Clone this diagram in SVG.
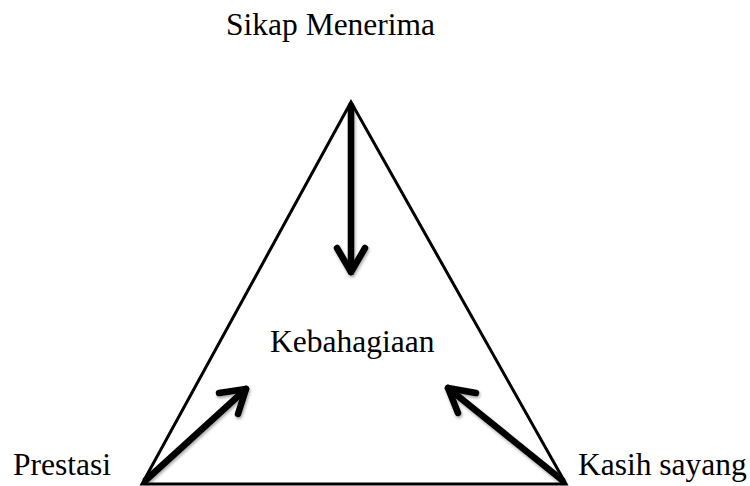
<svg xmlns="http://www.w3.org/2000/svg" width="750" height="486" viewBox="0 0 750 486">
<style>
.t{font-family:"Liberation Serif","Times New Roman",serif;font-size:31.5px;fill:#000}
.tri{fill:none;stroke:#000;stroke-width:3;stroke-linejoin:miter}
.ar{fill:none;stroke:#000;stroke-width:6.5;stroke-linecap:round;stroke-linejoin:round}
</style>
<defs>
<filter id="sh" x="-20%" y="-20%" width="140%" height="140%">
<feGaussianBlur in="SourceAlpha" stdDeviation="1.5"/>
<feOffset dx="1" dy="2" result="b"/>
<feComponentTransfer><feFuncA type="linear" slope="0.35"/></feComponentTransfer>
<feMerge><feMergeNode/><feMergeNode in="SourceGraphic"/></feMerge>
</filter>
</defs>
<rect width="750" height="486" fill="#fff"/>
<g id="triangle"><polygon class="tri" points="351,102 142,484 566,484"/></g>
<g id="connectors" filter="url(#sh)">
<path class="ar" d="M351,106 L351,272"/>
<path class="ar" d="M337,248 L351,272 L365,248"/>
<path class="ar" d="M146,480 L246,389"/>
<path class="ar" d="M219,393 L246,389 L238,414"/>
<path class="ar" d="M562,480 L448,388"/>
<path class="ar" d="M476,393 L448,388 L458,413"/>
</g>
<g id="sikap"><text class="t" x="226" y="35">Sikap Menerima</text></g>
<g id="kebahagiaan"><text class="t" x="270" y="352">Kebahagiaan</text></g>
<g id="prestasi"><text class="t" x="13" y="475">Prestasi</text></g>
<g id="kasih"><text class="t" x="578" y="475">Kasih sayang</text></g>
</svg>
